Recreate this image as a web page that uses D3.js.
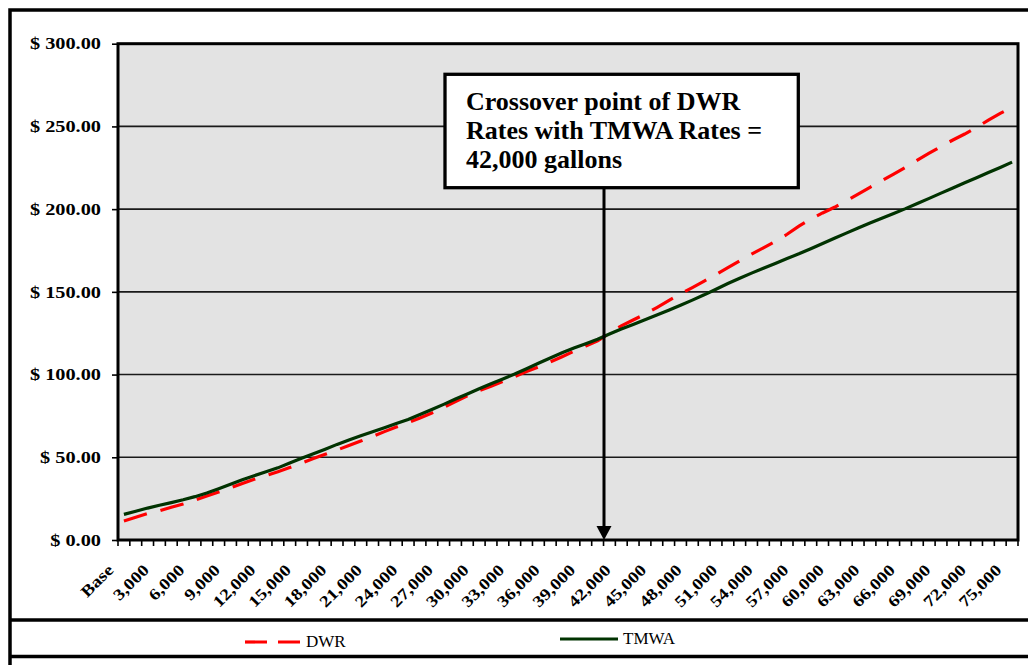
<!DOCTYPE html>
<html>
<head>
<meta charset="utf-8">
<script src="https://cdn.jsdelivr.net/npm/d3@7"></script>
<style>
html,body{margin:0;padding:0;background:#ffffff;overflow:hidden}
svg{display:block}
</style>
</head>
<body>
<svg id="chart" width="1028" height="665"></svg>
<script>
// ---------------- DATA ----------------
const categories = ["Base","1,000","2,000","3,000","4,000","5,000","6,000","7,000","8,000","9,000",
  "10,000","11,000","12,000","13,000","14,000","15,000","16,000","17,000","18,000","19,000",
  "20,000","21,000","22,000","23,000","24,000","25,000","26,000","27,000","28,000","29,000",
  "30,000","31,000","32,000","33,000","34,000","35,000","36,000","37,000","38,000","39,000",
  "40,000","41,000","42,000","43,000","44,000","45,000","46,000","47,000","48,000","49,000",
  "50,000","51,000","52,000","53,000","54,000","55,000","56,000","57,000","58,000","59,000",
  "60,000","61,000","62,000","63,000","64,000","65,000","66,000","67,000","68,000","69,000",
  "70,000","71,000","72,000","73,000","74,000","75,000"];

const tickLabels = ["Base","3,000","6,000","9,000","12,000","15,000","18,000","21,000","24,000",
  "27,000","30,000","33,000","36,000","39,000","42,000","45,000","48,000","51,000","54,000",
  "57,000","60,000","63,000","66,000","69,000","72,000","75,000"];

const dwrValues = [11.5,13.7,16.0,17.6,19.8,21.8,24.1,26.6,29.0,31.5,
  34.2,36.7,39.0,41.3,43.8,46.4,49.2,51.8,54.4,57.1,
  59.8,62.6,65.5,68.3,71.0,73.8,76.8,80.1,83.7,87.2,
  90.2,92.9,95.8,98.8,101.8,104.6,107.6,110.8,114.1,117.3,
  120.4,125.0,129.4,133.0,136.5,140.5,144.7,148.8,152.6,156.5,
  160.5,164.6,168.7,172.8,176.6,180.4,184.8,189.7,194.0,197.7,
  201.1,205.0,209.1,213.2,217.2,221.2,225.3,229.6,233.8,237.9,
  241.8,245.4,249.4,253.8,257.9,261.5];

const tmwaValues = [15.5,17.4,19.3,21.0,22.6,24.3,26.2,28.4,31.0,33.7,
  36.4,38.9,41.2,43.6,46.5,49.4,52.1,54.9,57.8,60.5,
  63.0,65.4,67.9,70.4,72.9,75.9,78.9,82.0,85.2,88.3,
  91.4,94.4,97.3,100.3,103.5,106.8,110.0,113.2,116.0,118.7,
  121.4,124.5,127.5,130.3,133.1,136.0,138.9,141.9,145.0,148.2,
  151.6,155.0,158.2,161.3,164.3,167.2,170.1,173.0,176.1,179.2,
  182.4,185.5,188.6,191.6,194.5,197.4,200.3,203.4,206.5,209.7,
  212.8,215.9,219.0,222.1,225.2,228.4];

const yTicks = [0,50,100,150,200,250,300];
const seriesNames = ["DWR","TMWA"];
const annotationLines = ["Crossover point of DWR","Rates with TMWA Rates =","42,000 gallons"];

// ---------------- LAYOUT ----------------
const W = 1028, H = 665;
const plot = {left:118, top:43.7, right:1018, bottom:540};
const serif = "'Liberation Serif','Times New Roman',serif";
const colors = {DWR:"#ff0000", TMWA:"#013301"};

const svg = d3.select("#chart");

const x = d3.scaleBand().domain(categories).range([plot.left, plot.right]).padding(0);
const y = d3.scaleLinear().domain([0,300]).range([plot.bottom, plot.top]);
const xc = c => x(c) + x.bandwidth()/2;

// outer frame
const frame = svg.append("g").attr("stroke","#000").attr("stroke-width",3.5).attr("fill","none");
frame.append("path").attr("d", `M10,${H+5} L10,10 L${W+5},10`);
frame.append("line").attr("x1",10).attr("x2",W+5).attr("y1",620).attr("y2",620);
frame.append("line").attr("x1",10).attr("x2",W+5).attr("y1",656.5).attr("y2",656.5);

// plot background
svg.append("rect")
  .attr("x",plot.left).attr("y",plot.top)
  .attr("width",plot.right-plot.left).attr("height",plot.bottom-plot.top)
  .attr("fill","#e3e3e3");

// gridlines
svg.append("g").selectAll("line")
  .data(yTicks.filter(d => d>0 && d<300))
  .join("line")
  .attr("x1",plot.left).attr("x2",plot.right)
  .attr("y1",d=>y(d)).attr("y2",d=>y(d))
  .attr("stroke","#1a1a1a").attr("stroke-width",1.6);

// series lines
const line = d3.line()
  .x((d,i) => xc(categories[i]))
  .y(d => y(d));

svg.append("path").datum(dwrValues)
  .attr("d", line)
  .attr("fill","none")
  .attr("stroke",colors.DWR)
  .attr("stroke-width",3.2)
  .attr("stroke-dasharray","24,14");

svg.append("path").datum(tmwaValues)
  .attr("d", line)
  .attr("fill","none")
  .attr("stroke",colors.TMWA)
  .attr("stroke-width",3.2);

// plot border
svg.append("rect")
  .attr("x",plot.left).attr("y",plot.top)
  .attr("width",plot.right-plot.left).attr("height",plot.bottom-plot.top)
  .attr("fill","none").attr("stroke","#000").attr("stroke-width",3);

// Y axis
const yAxis = svg.append("g")
  .attr("transform",`translate(${plot.left},0)`)
  .call(d3.axisLeft(y).tickValues(yTicks).tickSize(6).tickFormat(d => "$ " + d.toFixed(2)));
yAxis.select(".domain").remove();
yAxis.selectAll(".tick line").attr("stroke","#000").attr("stroke-width",1.6);
yAxis.selectAll(".tick text")
  .attr("x",0).attr("dy","0.33em")
  .attr("transform","translate(-17,0) scale(1.27,1)")
  .attr("text-anchor","end")
  .attr("font-family",serif).attr("font-weight","bold").attr("font-size",16)
  .attr("fill","#000");

// X axis tick marks (category boundaries)
const boundaries = categories.map(c => x(c)).concat([x.range()[1]]);
svg.append("g").selectAll("line")
  .data(boundaries)
  .join("line")
  .attr("x1",d=>d).attr("x2",d=>d)
  .attr("y1",plot.bottom).attr("y2",plot.bottom+6)
  .attr("stroke","#000").attr("stroke-width",1.6);

// X axis labels
svg.append("g").selectAll("text")
  .data(tickLabels)
  .join("text")
  .attr("transform", d => `translate(${xc(d)-9.5},571) rotate(-45) scale(1.2,1)`)
  .attr("text-anchor","end")
  .attr("font-family",serif).attr("font-weight","bold").attr("font-size",16)
  .attr("fill","#000")
  .text(d => d);

// annotation box + arrow
const box = {x:445, y:74.3, w:353.3, h:113.4};
svg.append("rect")
  .attr("x",box.x).attr("y",box.y).attr("width",box.w).attr("height",box.h)
  .attr("fill","#fff").attr("stroke","#000").attr("stroke-width",3.3);
svg.append("g").selectAll("text")
  .data(annotationLines)
  .join("text")
  .attr("x",466)
  .attr("y",(d,i) => 110 + i*29)
  .attr("font-family",serif).attr("font-weight","bold").attr("font-size",26)
  .attr("fill","#000")
  .text(d => d);

const arrowX = 604;
svg.append("line")
  .attr("x1",arrowX).attr("x2",arrowX)
  .attr("y1",box.y+box.h).attr("y2",plot.bottom-13)
  .attr("stroke","#000").attr("stroke-width",3);
svg.append("path")
  .attr("d",`M${arrowX-7.5},${plot.bottom-14} L${arrowX+7.5},${plot.bottom-14} L${arrowX},${plot.bottom} Z`)
  .attr("fill","#000");

// legend
const legend = svg.append("g");
legend.append("line")
  .attr("x1",245).attr("x2",300).attr("y1",642).attr("y2",642)
  .attr("stroke",colors.DWR).attr("stroke-width",3.2).attr("stroke-dasharray","22,11");
legend.append("text")
  .attr("x",306).attr("y",647)
  .attr("font-family",serif).attr("font-size",17).attr("fill","#000")
  .text(seriesNames[0]);
legend.append("line")
  .attr("x1",560).attr("x2",618).attr("y1",639).attr("y2",639)
  .attr("stroke",colors.TMWA).attr("stroke-width",3.2);
legend.append("text")
  .attr("x",623).attr("y",643.5)
  .attr("font-family",serif).attr("font-size",17).attr("fill","#000")
  .text(seriesNames[1]);
</script>
</body>
</html>
